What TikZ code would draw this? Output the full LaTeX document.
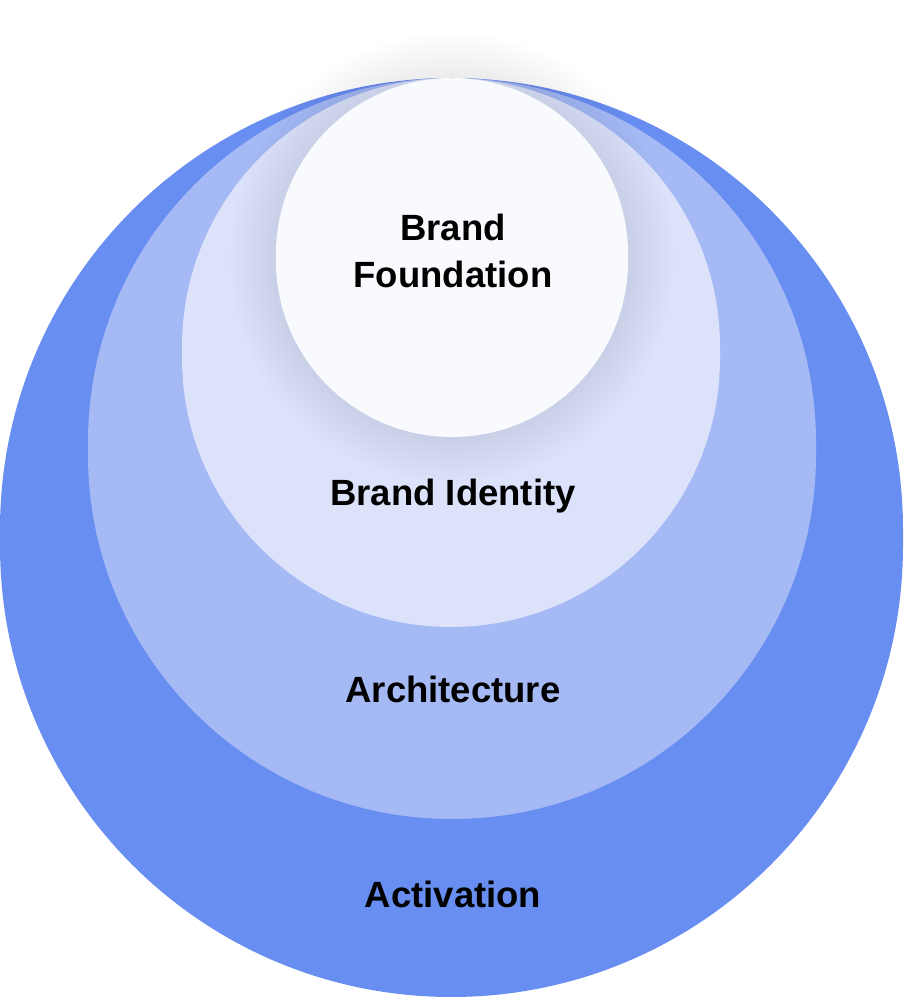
\documentclass[tikz,border=0pt]{standalone}
\usepackage{fontspec}
\setmainfont{Liberation Sans}
\definecolor{ringA}{RGB}{103,142,240}
\definecolor{ringB}{RGB}{165,185,245}
\definecolor{ringC}{RGB}{219,226,250}
\definecolor{core}{RGB}{248,250,254}
\tikzset{
  ringlabel/.style={font=\bfseries\fontsize{36.5}{47}\selectfont,anchor=base,align=center,text=black}
}

\begin{document}
\begin{tikzpicture}[x=1pt,y=1pt]
  \useasboundingbox (0,0) rectangle (903,999);
  % nested rings, all touching at the top
  \foreach \cx/\r/\d/\col in {451.5/451.5/16/ringA,452/364/13/ringB,451/269/11/ringC}{
    \fill[\col] (\cx-\r,921-\r) arc (180:0:\r) -- ++(0,-\d) arc (0:-180:\r) -- cycle;
  }
  % soft shadow round the core
  \foreach \k in {1,...,9}{
    \fill[black,opacity=0.0078] (452-176-5*\k,745) arc (180:0:176+5*\k) -- ++(0,-7) arc (0:-180:176+5*\k) -- cycle;
  }
  \fill[core] (276,745) arc (180:0:176) -- ++(0,-7) arc (0:-180:176) -- cycle;
  \node[ringlabel] (foundation) at (453,711) {Brand\\Foundation};
  \node[ringlabel] (identity) at (453,493) {Brand Identity};
  \node[ringlabel] (architecture) at (453,296) {Architecture};
  \node[ringlabel] (activation) at (453,91) {Activation};
\end{tikzpicture}
\end{document}
